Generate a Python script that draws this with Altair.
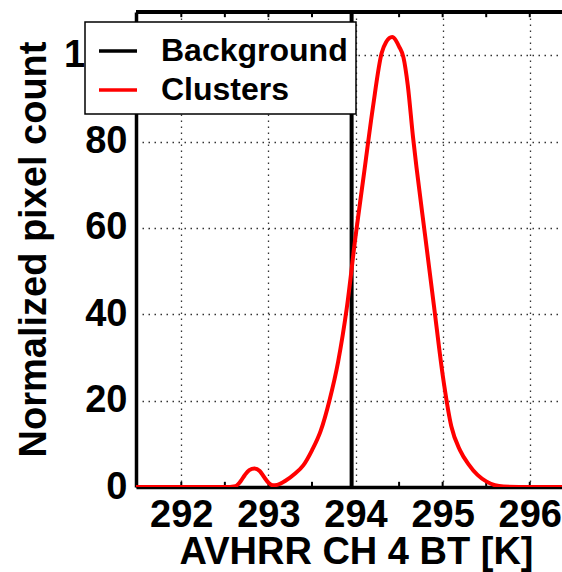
import altair as alt
import pandas as pd

# Cluster histogram (red curve)
clusters_x = [291.48, 292.0, 292.5, 292.62, 292.68, 292.73, 292.78, 292.84, 292.9, 292.95,
              293.0, 293.05, 293.1, 293.2, 293.3, 293.4, 293.5, 293.6, 293.7, 293.8,
              293.9, 294.0, 294.1, 294.2, 294.3, 294.35, 294.42, 294.5, 294.55, 294.6,
              294.66, 294.7, 294.8, 294.9, 295.0, 295.1, 295.2, 295.3, 295.4, 295.5,
              295.6, 295.7, 296.0, 296.37]
clusters_y = [0, 0, 0, 0.2, 1.3, 2.8, 3.9, 4.3, 3.7, 2.3,
              1.0, 0.4, 0.5, 1.5, 3.0, 5.0, 8.5, 13.0, 20.0, 29.0,
              41.5, 58.0, 73.0, 88.0, 100.5, 103.0, 104.2, 102.0, 99.5, 93.0,
              81.0, 74.0, 58.0, 42.0, 26.0, 14.0, 8.5, 5.2, 2.8, 1.3,
              0.4, 0.1, 0, 0]

# Background (black vertical spike)
background_x = [293.955, 293.955]
background_y = [0, 110]

x_ticks = [292, 293, 294, 295, 296]
y_ticks = [0, 20, 40, 60, 80, 100]
minor_ticks = [292, 292.5, 293, 293.5, 294.5, 295, 295.5, 296]
x_dom = [291.48, 296.37]
y_dom = [0, 110]

clusters = pd.DataFrame({"x": clusters_x, "y": clusters_y, "series": "Clusters"})
background = pd.DataFrame({"x": background_x, "y": background_y, "series": "Background"})
ticks_df = pd.DataFrame({"x": minor_ticks})

FONT = "Liberation Sans"

xscale = alt.Scale(domain=x_dom, nice=False, zero=False)
yscale = alt.Scale(domain=y_dom, nice=False)
color = alt.Color("series:N",
                  scale=alt.Scale(domain=["Background", "Clusters"], range=["black", "red"]),
                  legend=alt.Legend(title=None, orient="none", legendX=-51, legendY=10))

xaxis = alt.Axis(values=x_ticks, format="d", grid=True, ticks=False, labelFontSize=38, labelFontWeight="bold",
                 labelPadding=9, labelFlush=False, labelOverlap=False, domainWidth=3.5, domainColor="black",
                 title="AVHRR CH 4 BT [K]", titleFontSize=38, titleFontWeight="bold",
                 titleX=220, titleY=76, titleBaseline="alphabetic", titleAlign="center",
                 gridDash=[1.5, 4.5], gridColor="#333", gridWidth=1.3, labelColor="black", titleColor="black")
yaxis = alt.Axis(values=y_ticks, format="d", grid=True, ticks=False, labelFontSize=38, labelFontWeight="bold",
                 labelPadding=9, labelFlush=False, labelOverlap=False, domainWidth=3.5, domainColor="black",
                 title="Normalized pixel count", titleFontSize=38, titleFontWeight="bold",
                 titleX=-91, titleY=237, titleAngle=270, titleBaseline="alphabetic", titleAlign="center",
                 gridDash=[1.5, 4.5], gridColor="#333", gridWidth=1.3, labelColor="black", titleColor="black")

bg = alt.Chart(background).mark_line(strokeWidth=4, clip=True).encode(
    x=alt.X("x:Q", scale=xscale, axis=xaxis),
    y=alt.Y("y:Q", scale=yscale, axis=yaxis),
    color=color,
)
cl = alt.Chart(clusters).mark_line(strokeWidth=4, clip=True, interpolate="monotone").encode(
    x=alt.X("x:Q", scale=xscale),
    y=alt.Y("y:Q", scale=yscale),
    color=color,
)
top = alt.Chart(ticks_df).mark_rule(color="black", strokeWidth=3.5).encode(
    y=alt.datum(y_dom[1]),
)
bticks = alt.Chart(ticks_df).mark_rule(color="black", strokeWidth=2).encode(
    x=alt.X("x:Q", scale=xscale), y=alt.datum(0), y2=alt.datum(1.2),
)
tticks = alt.Chart(ticks_df).mark_rule(color="black", strokeWidth=2).encode(
    x=alt.X("x:Q", scale=xscale), y=alt.datum(y_dom[1]), y2=alt.datum(y_dom[1] - 1.2),
)

chart = alt.layer(bticks, tticks, bg, cl, top).properties(
    width=426, height=475,
    autosize=alt.AutoSizeParams(type="none"),
    padding={"left": 136, "top": 12, "right": 0, "bottom": 85},
    background="white",
).configure_view(stroke=None).configure(font=FONT).configure_legend(
    fillColor="white", strokeColor="black", strokeWidth=1.5, padding=8,
    symbolType="stroke", symbolSize=1444, symbolStrokeWidth=3.5, symbolOffset=4,
    labelFontSize=32, labelFontWeight="bold", labelOffset=22, rowPadding=2, labelLimit=400,
    labelColor="black", labelFont=FONT, labelBaseline="middle",
)

chart.save("out.html", embed_options={"renderer": "svg", "actions": False})
